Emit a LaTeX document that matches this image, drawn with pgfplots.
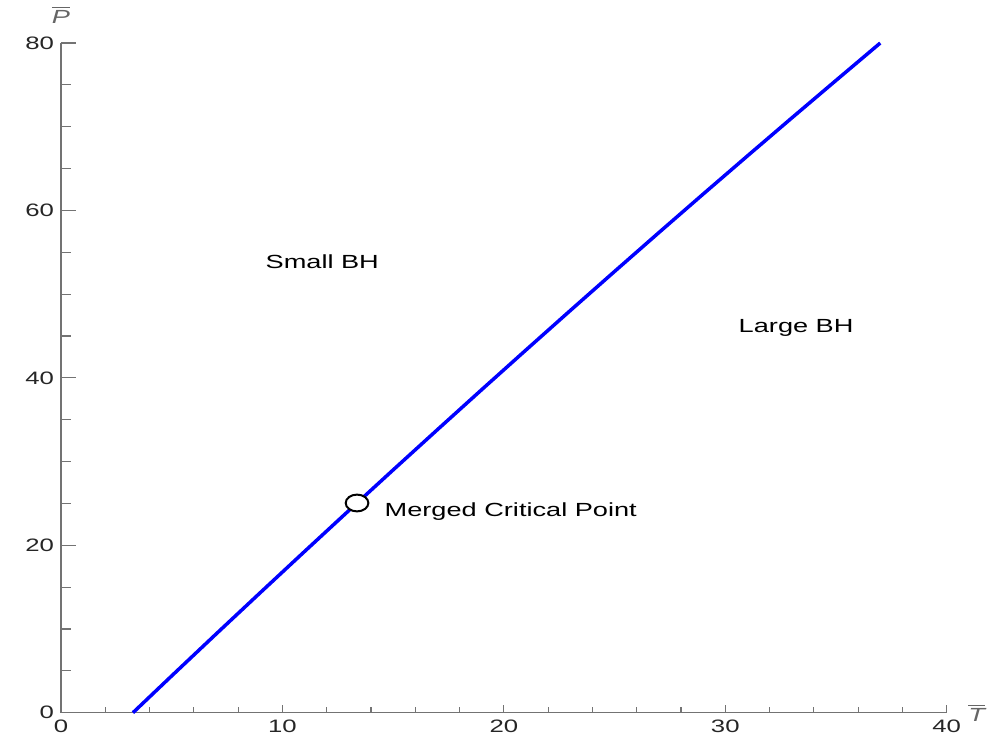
\documentclass[border=0pt]{standalone}
\usepackage{graphicx}
\usepackage{fontspec}
\setmainfont{Liberation Sans}
\usepackage{pgfplots}
\pgfplotsset{compat=1.18}
\newcommand{\sx}[1]{\scalebox{1.43}[1]{#1}}
\begin{document}
\begin{tikzpicture}
\useasboundingbox (-30.5pt,-12.65pt) rectangle (468pt,356.35pt);
\begin{axis}[
  scale only axis,
  width=442.85pt, height=334.85pt,
  xmin=0, xmax=40, ymin=0, ymax=80,
  axis lines=left,
  axis line style={-, draw=black!55, line width=0.7pt},
  xtick={0,10,20,30,40}, ytick={0,20,40,60,80},
  minor x tick num=4, minor y tick num=3,
  tick align=inside,
  tick style={draw=black!55, line width=0.6pt},
  xtick style={/pgfplots/major tick length=4pt, /pgfplots/minor tick length=3pt},
  ytick style={/pgfplots/major tick length=7.5pt, /pgfplots/minor tick length=5pt},
  /pgf/number format/assume math mode=true,
  xticklabel={\sx{\pgfmathprintnumber{\tick}}},
  yticklabel={\sx{\pgfmathprintnumber{\tick}}},
  tick label style={font=\fontsize{9}{10}\selectfont, text=black!85},
  clip=false,
]
\addplot[blue, line width=1.75pt] coordinates {
 (3.25,0) (5,4.40) (7,9.39) (9,14.34) (11,19.26) (13.37,25.05) (15,29.0)
 (17,33.81) (19,38.59) (21,43.33) (23,48.04) (25,52.71) (27,57.35)
 (29,61.95) (31,66.51) (33,71.04) (35,75.53) (37,80)
};
\addplot[only marks, mark=*, mark size=4.2pt,
  mark options={fill=white, draw=black, line width=1pt, xscale=1.35}]
  coordinates {(13.37,25.05)};
\node[font=\fontsize{9.5}{11}\selectfont, anchor=center] at (axis cs:11.8,53.85) {\sx{Small BH}};
\node[font=\fontsize{9.5}{11}\selectfont, anchor=center] at (axis cs:33.2,45.96) {\sx{Large BH}};
\node[font=\fontsize{9.5}{11}\selectfont, anchor=west, inner sep=0pt] at (axis cs:14.6,23.98) {\sx{Merged Critical Point}};
\node[font=\fontsize{9.5}{11}\selectfont, text=black!60] at ([yshift=14pt]rel axis cs:0,1) {\sx{$\overline{\mbox{\itshape P}}$}};
\node[font=\fontsize{9.5}{11}\selectfont, text=black!60] at ([xshift=15pt]rel axis cs:1,0) {\sx{$\overline{\mbox{\itshape T}}$}};
\end{axis}
\end{tikzpicture}
\end{document}
